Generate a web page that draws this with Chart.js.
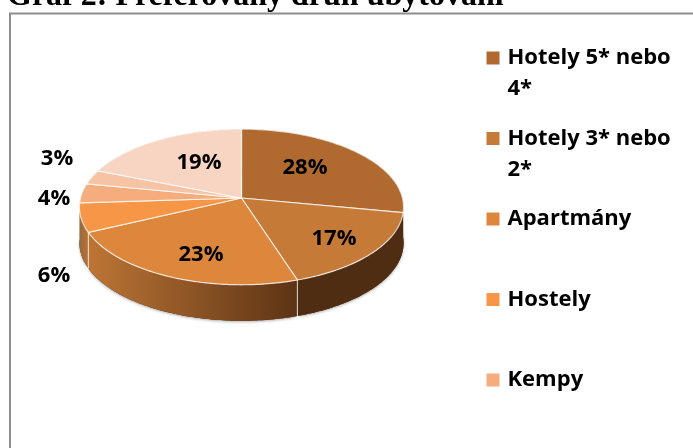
<!DOCTYPE html>
<html><head><meta charset="utf-8">
<style>html,body{margin:0;padding:0;background:#fff;overflow:hidden}canvas{display:block}</style>
<script src="https://cdn.jsdelivr.net/npm/chart.js@4"></script>
</head><body>
<canvas id="c" width="693" height="448"></canvas>
<script>
const chartTitle = "Graf 2: Preferovaný druh ubytování";
const categories = [["Hotely 5* nebo","4*"],["Hotely 3* nebo","2*"],"Apartmány","Hostely","Kempy","",""];
const shares = [28,17,23,6,4,3,19];
const faceColors = ["#B06A30","#C67A38","#DD873D","#F79646","#F5AD7E","#F6C3A5","#F8D4C3"];
const wallFrom = ["#4E2D13","#4E2D13","#BD7535","#9A6A40","#9A6A40","#9A6A40","#9A6A40"];
const wallTo   = ["#4E2D13","#4E2D13","#5C3315","#B87234","#9A6A40","#9A6A40","#9A6A40"];
const labelCentres = [[305,168],[334,239],[201,255],[54,276],[54,199],[57,159],[199,163]];
const legendCount = 5;
const FONT = "'Open Sans', sans-serif";
const LEGEND_FONT_SIZE = 22;
const LEGEND_STEP = 80.5, LEGEND_FIRST_Y = 58, LEGEND_TEXT_X = 507.5, LEGEND_LINE = 31;

const tilt = 0.477, persp = 0.115, depth = 36;
const project = (el, a, dy = 0) => {
  const u = Math.cos(a), v = Math.sin(a), d = 1 - persp * v, R = el.outerRadius;
  return [el.x + R * u / d, el.y + R * tilt * v / d + dy];
};
const arcPts = (el, dy = 0) => {
  const pts = [], n = Math.max(2, Math.ceil((el.endAngle - el.startAngle) * 60));
  for (let i = 0; i <= n; i++) pts.push(project(el, el.startAngle + (el.endAngle - el.startAngle) * i / n, dy));
  return pts;
};
const trace = (ctx, pts) => pts.forEach((p, i) => i ? ctx.lineTo(p[0], p[1]) : ctx.moveTo(p[0], p[1]));

const pie3d = {
  id: 'pie3d',
  afterLayout(chart) {
    const l = chart.legend, pad = l.options.labels.padding;
    const half = LEGEND_FONT_SIZE / 2;
    l.left = LEGEND_TEXT_X - half - 7 - pad;
    l.right = 693; l.top = LEGEND_FIRST_Y - half - pad; l.bottom = 1000;
    const t = chart.titleBlock;
    t.left = 7; t.top = -13; t.right = 693;
  },
  beforeDraw(chart) {
    const ctx = chart.ctx;
    ctx.save(); ctx.strokeStyle = "#8E8E8E"; ctx.lineWidth = 2;
    ctx.beginPath(); ctx.moveTo(10, 460); ctx.lineTo(10, 13.5); ctx.lineTo(700, 13.5); ctx.stroke();
    ctx.restore();
  },
  beforeDatasetsDraw(chart) {
    const ctx = chart.ctx, arcs = chart.getDatasetMeta(0).data;
    ctx.save();
    ctx.save();
    ctx.shadowColor = "rgba(0,0,0,.35)"; ctx.shadowBlur = 3; ctx.shadowOffsetY = 1;
    ctx.fillStyle = "#4E2D13"; ctx.beginPath();
    arcs.forEach(el => trace(ctx, arcPts(el, depth))); ctx.closePath(); ctx.fill();
    ctx.restore();
    arcs.forEach((el, i) => {
      const top = arcPts(el), bottom = arcPts(el, depth).reverse();
      const x0 = top[0][0], x1 = top[top.length-1][0];
      const g = ctx.createLinearGradient(Math.min(x0, x1), 0, Math.max(x0, x1), 0);
      const rev = x0 > x1;
      g.addColorStop(0, rev ? wallFrom[i] : wallTo[i]);
      g.addColorStop(1, rev ? wallTo[i] : wallFrom[i]);
      ctx.fillStyle = g; ctx.beginPath(); trace(ctx, top.concat(bottom)); ctx.closePath(); ctx.fill();
    });
    ctx.strokeStyle = "rgba(255,255,255,.75)"; ctx.lineWidth = 1;
    arcs.forEach(el => {
      const v = Math.sin(el.startAngle);
      if (v > persp + .1) {
        const p = project(el, el.startAngle);
        ctx.beginPath(); ctx.moveTo(p[0], p[1]); ctx.lineTo(p[0], p[1] + depth); ctx.stroke();
      }
    });
    arcs.forEach((el, i) => {
      ctx.beginPath(); ctx.moveTo(el.x, el.y); arcPts(el).forEach(p => ctx.lineTo(p[0], p[1])); ctx.closePath();
      ctx.fillStyle = faceColors[i]; ctx.fill();
      ctx.strokeStyle = "rgba(255,255,255,.75)"; ctx.lineWidth = 1.2; ctx.lineJoin = "round"; ctx.stroke();
    });
    ctx.fillStyle = "#000"; ctx.font = "bold 22px " + FONT; ctx.textAlign = "center"; ctx.textBaseline = "middle";
    shares.forEach((s, i) => ctx.fillText(s + "%", labelCentres[i][0], labelCentres[i][1]));
    ctx.restore();
    return false;
  },
  afterDraw(chart) {
    const ctx = chart.ctx;
    ctx.save();
    ctx.fillStyle = "#000"; ctx.font = "bold " + LEGEND_FONT_SIZE + "px " + FONT;
    ctx.textAlign = "left"; ctx.textBaseline = "middle";
    categories.forEach((c, i) => {
      if (Array.isArray(c)) ctx.fillText(c[1], LEGEND_TEXT_X, LEGEND_FIRST_Y + i * LEGEND_STEP + LEGEND_LINE);
    });
    ctx.restore();
  }
};

new Chart(document.getElementById('c'), {
  type: 'pie',
  data: { labels: categories, datasets: [{ data: shares, backgroundColor: faceColors, borderWidth: 0 }] },
  plugins: [pie3d],
  options: {
    responsive: false, animation: false, events: [],
    layout: { padding: { top: 17, bottom: 89, left: 0, right: 210 } },
    plugins: {
      tooltip: { enabled: false },
      title: { display: true, text: chartTitle, align: 'start', position: 'top', color: '#000', padding: 0,
               font: { family: "'Liberation Serif', serif", size: 32, weight: 'bold', lineHeight: '20px' } },
      legend: {
        display: true, position: 'chartArea', align: 'start',
        labels: {
          color: '#000', boxWidth: 7, boxHeight: 7, padding: LEGEND_STEP - LEGEND_FONT_SIZE,
          font: { family: FONT, size: LEGEND_FONT_SIZE, weight: 'bold' },
          filter: item => item.index < legendCount,
          generateLabels(chart) {
            return Chart.overrides.pie.plugins.legend.labels.generateLabels(chart).map(it =>
              Object.assign(it, {
                text: Array.isArray(it.text) ? it.text[0] : it.text,
                lineWidth: 6, strokeStyle: it.fillStyle, lineJoin: 'miter'
              }));
          }
        }
      }
    }
  }
});
</script>
</body></html>
